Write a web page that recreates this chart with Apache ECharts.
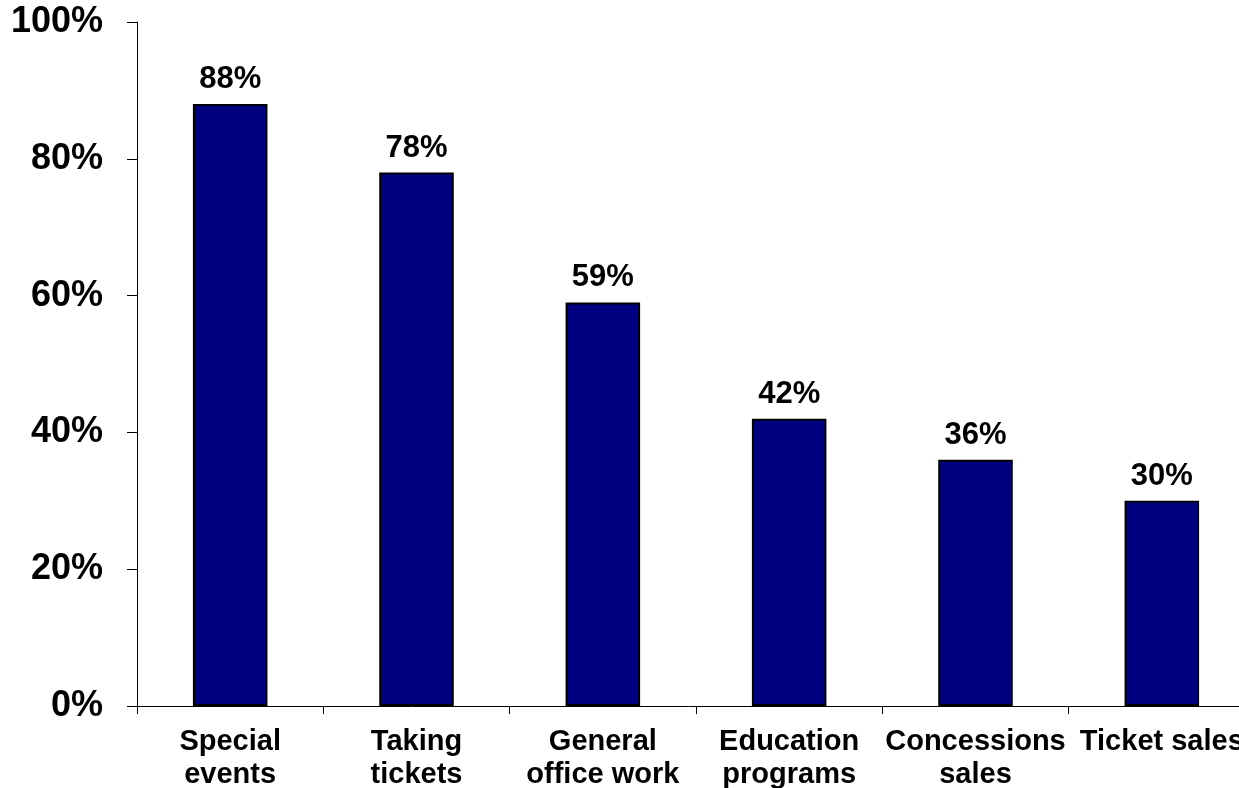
<!DOCTYPE html>
<html>
<head>
<meta charset="utf-8">
<title>Volunteer activities</title>
<script src="https://cdn.jsdelivr.net/npm/echarts@6/dist/echarts.min.js"></script>
<style>
  html, body { margin: 0; padding: 0; background: #ffffff; }
  #chart { width: 1239px; height: 788px; }
</style>
</head>
<body>
<div id="chart"></div>
<script>
// Activity categories (two-line labels where the text wraps)
const categories = [
  'Special\nevents',
  'Taking\ntickets',
  'General\noffice work',
  'Education\nprograms',
  'Concessions\nsales',
  'Ticket sales'
];
// Share of respondents, in percent
const shares = [88, 78, 59, 42, 36, 30];
// Value axis range and step, in percent
const yMin = 0;
const yMax = 100;
const yStep = 20;

const FONT = '"Liberation Sans", Arial, sans-serif';

const chart = echarts.init(document.getElementById('chart'), null, { renderer: 'canvas' });

chart.setOption({
  animation: false,
  backgroundColor: '#ffffff',
  // plot area runs slightly past the right edge of the canvas
  grid: {
    left: 137, width: 1118, top: 22, height: 684,
    containLabel: false,
    outerBoundsMode: 'none'
  },
  xAxis: {
    type: 'category',
    data: categories,
    boundaryGap: true,
    axisLine: { show: true, lineStyle: { color: '#000000', width: 1 } },
    axisTick: { show: true, length: 8, lineStyle: { color: '#000000', width: 1 } },
    axisLabel: {
      interval: 0,
      margin: 19,
      color: '#000000',
      fontFamily: FONT,
      fontWeight: 'bold',
      fontSize: 29,
      lineHeight: 33
    },
    splitLine: { show: false }
  },
  yAxis: {
    type: 'value',
    min: yMin,
    max: yMax,
    interval: yStep,
    axisLine: { show: true, lineStyle: { color: '#000000', width: 1 } },
    axisTick: { show: true, length: 10, lineStyle: { color: '#000000', width: 1 } },
    axisLabel: {
      margin: 34,
      color: '#000000',
      fontFamily: FONT,
      fontWeight: 'bold',
      fontSize: 36,
      formatter: '{value}%'
    },
    splitLine: { show: false }
  },
  series: [{
    type: 'bar',
    data: shares,
    barWidth: '40%',
    itemStyle: { color: '#000080', borderColor: '#000000', borderWidth: 2 },
    label: {
      show: true,
      position: 'top',
      distance: 9,
      color: '#000000',
      fontFamily: FONT,
      fontWeight: 'bold',
      fontSize: 31,
      formatter: '{c}%'
    }
  }]
});
</script>
</body>
</html>
